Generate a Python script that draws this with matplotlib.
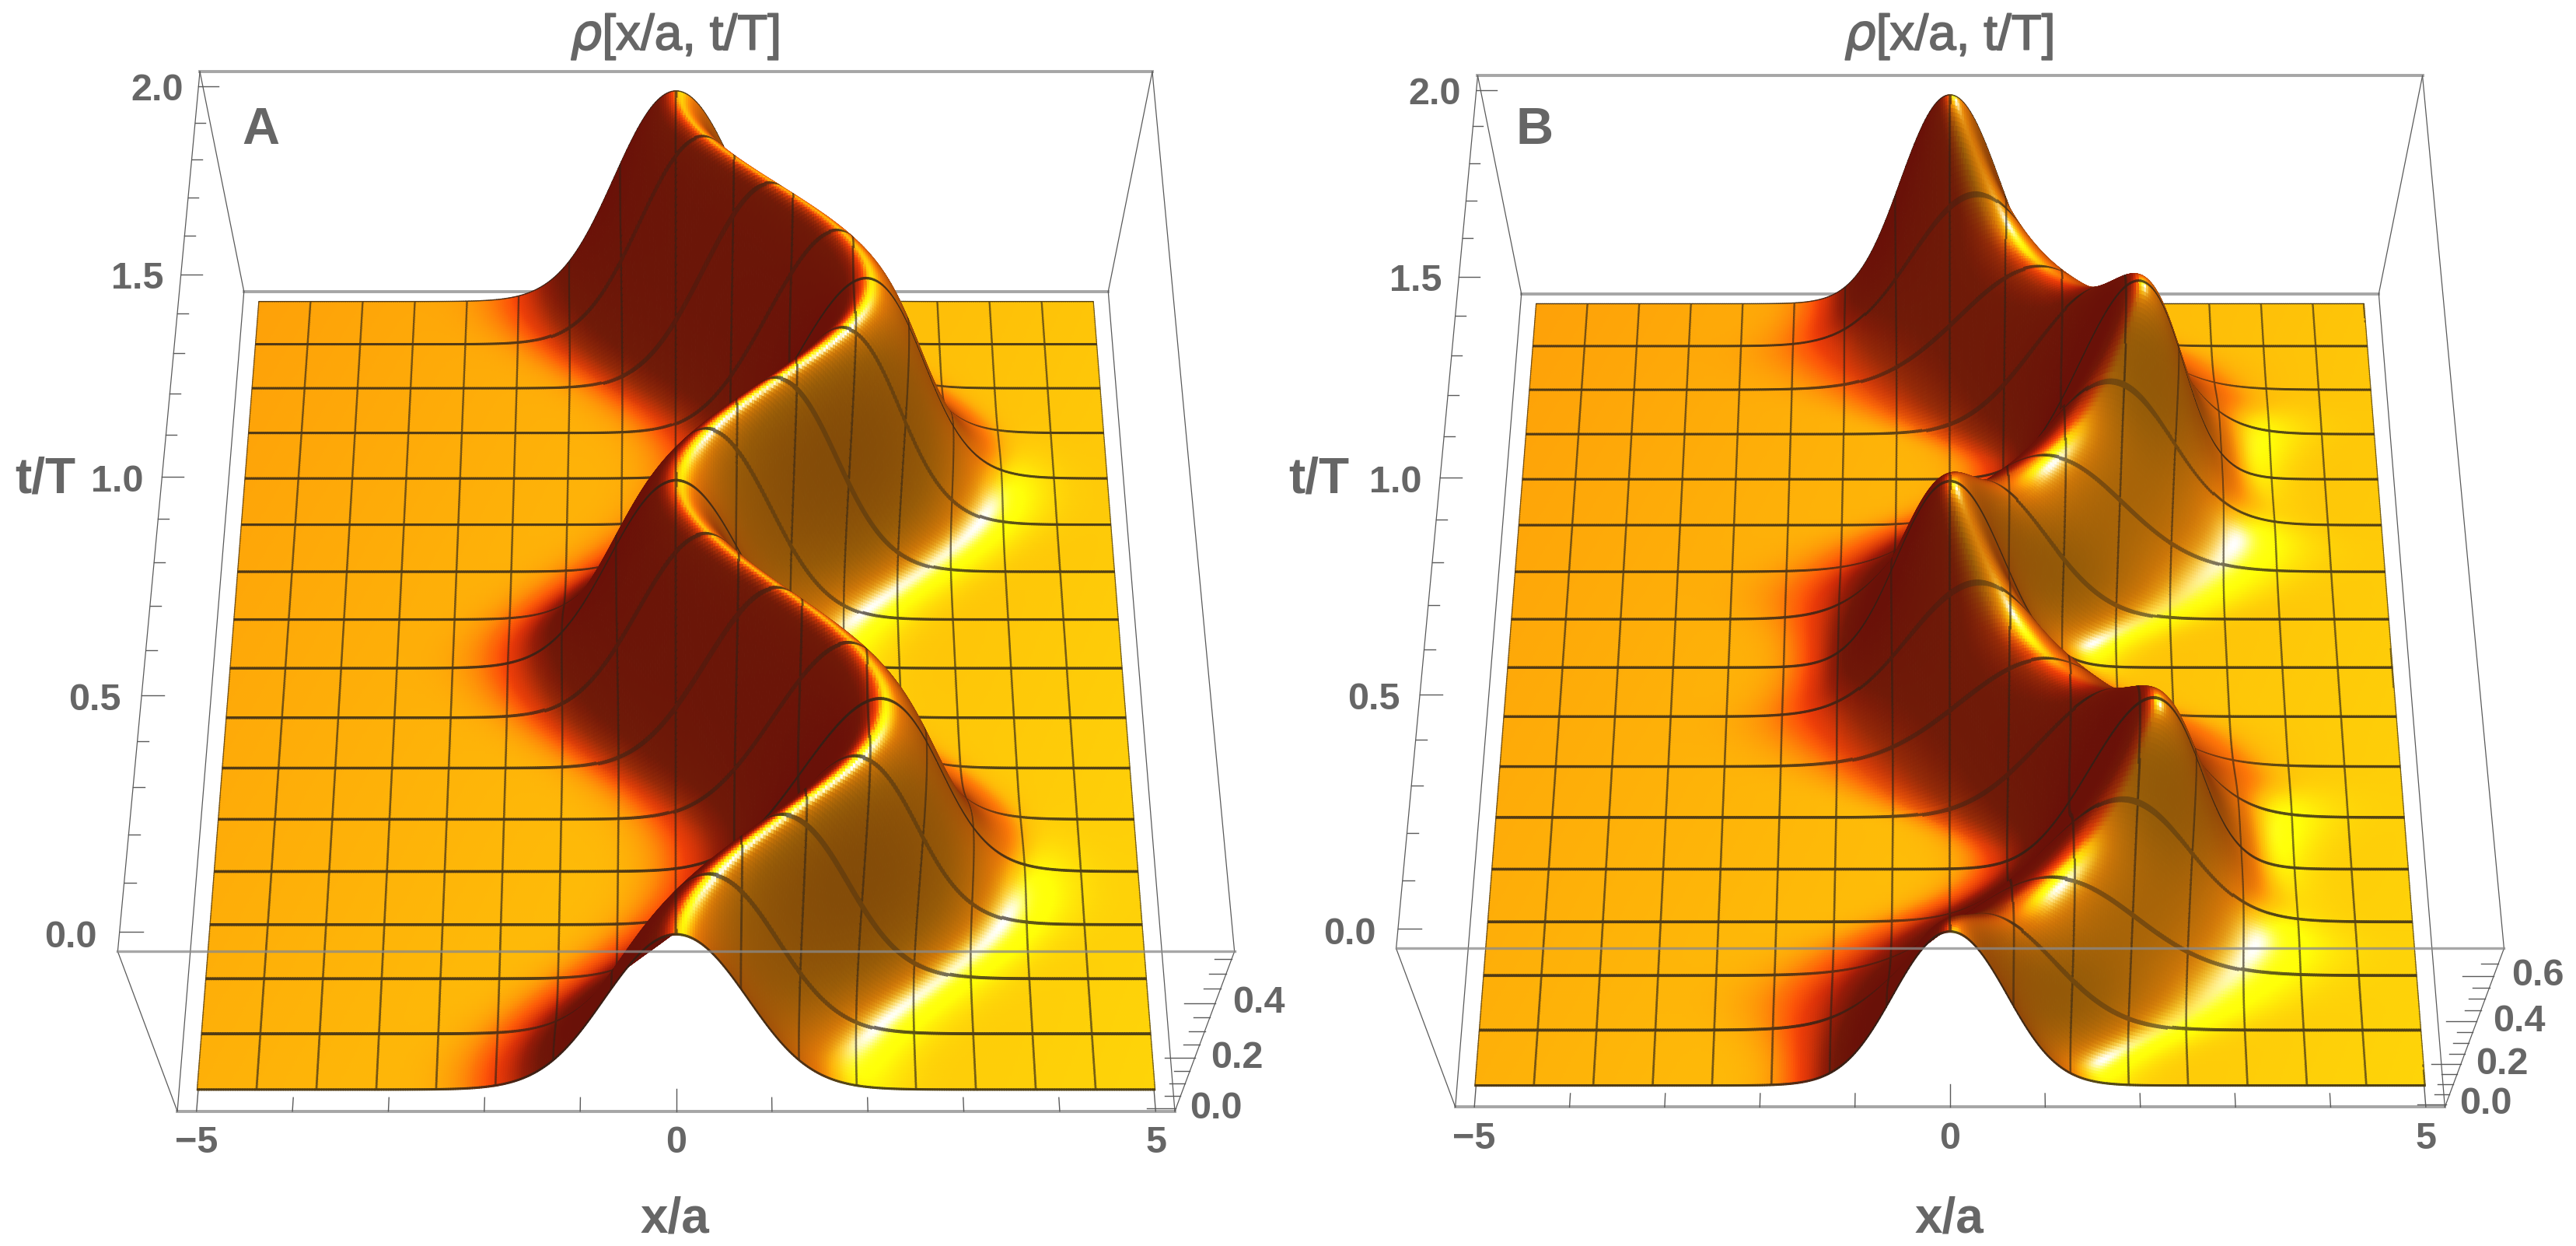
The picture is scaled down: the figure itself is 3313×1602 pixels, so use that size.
import numpy as np
import matplotlib
matplotlib.use("Agg")
import matplotlib.pyplot as plt
import matplotlib.patheffects as pe
from mpl_toolkits.mplot3d import proj3d

W, H = 3313, 1602
plt.rcParams['font.family'] = ['Liberation Sans', 'DejaVu Sans']

# values read at the mesh rows of each panel
t_rows = [0.0, 0.125, 0.25, 0.375, 0.5, 0.625, 0.75, 0.875, 1.0,
          1.125, 1.25, 1.375, 1.5, 1.625, 1.75, 1.875, 2.0]
centers_a = [0.0, 0.31, 1.02, 1.73, 1.99, 1.70, 1.0, 0.30, 0.0,
             0.31, 1.03, 1.73, 2.0, 1.71, 1.01, 0.29, 0.0]
heights_a = [0.564] * 17
centers_b = [0.0, 0.31, 1.02, 1.72, 2.0, 1.70, 1.0, 0.30, 0.0,
             0.31, 1.02, 1.72, 2.0, 1.70, 1.0, 0.30, 0.0]
heights_b = [0.70, 0.53, 0.44, 0.53, 0.70, 0.53, 0.44, 0.53, 0.70,
             0.53, 0.44, 0.53, 0.70, 0.53, 0.44, 0.53, 0.70]

x_mesh = np.linspace(-5, 5, 17)
t_mesh = np.array(t_rows)
t_tick_labels = ['0.0', '0.5', '1.0', '1.5', '2.0']
x_tick_labels = ['\u22125', '0', '5']
z_labels_a = ['0.0', '0.2', '0.4']
z_labels_b = ['0.0', '0.2', '0.4', '0.6']
LABEL = '#666666'
RIM = '#a6a6a6'
EDGE = '#5a5a5a'


def periodic(values, tq, period=2.0):
    v = np.asarray(values[:-1], float)
    n = len(v)
    c = np.fft.rfft(v) / n
    out = np.full_like(tq, c[0].real, dtype=float)
    for k in range(1, len(c)):
        f = 1.0 if (k == n // 2) else 2.0
        out += f * (c[k] * np.exp(2j * np.pi * k * tq / period)).real
    return out


def axis_samples(lo, hi, step, mesh, d):
    base = np.arange(lo, hi + step / 2, step)
    near = np.min(np.abs(base[:, None] - mesh[None, :]), axis=1)
    base = base[near > 1.5 * d]
    pts = np.concatenate([base, mesh - d, mesh + d, [lo, hi]])
    pts = pts[(pts >= lo) & (pts <= hi)]
    return np.unique(np.round(pts, 6))


def shade(xg, tg, Z, x, t, zspan):
    ZB = Z / zspan * 0.4
    zy, zx = np.gradient(ZB, t / 2.08, x / 10.4)
    nrm = np.sqrt(zx ** 2 + zy ** 2 + 1)
    n = np.stack([-zx / nrm, -zy / nrm, 1 / nrm], axis=-1)

    def unit(v):
        v = np.array(v, float)
        return v / np.linalg.norm(v)
    lg = unit((0.30, -0.25, 0.92))
    lr = unit((0.25, -0.10, 0.96))
    hw = unit((0.45, -0.42, 0.79))
    dg = np.clip(n @ lg, 0, 1)
    dr = np.clip(n @ lr, 0, 1)
    dw = np.clip(n @ hw, 0, 1)
    G = np.interp(dg, [0, .4, .56, .775, .84, .92, .99, 1],
                  [.12, .20, .31, .46, .55, .73, .97, 1.0])
    G = G * (1 - 0.45 * np.clip(-n[..., 0] / 0.4, 0, 1))
    G = G + (0.07 * xg / 5 - 0.03 * (tg - 1)) * np.clip((dg - 0.8) / 0.1, 0, 1)
    R = np.interp(dr, [0, .3, .5, .7, .85, 1], [.41, .44, .59, .84, .99, 1.0])
    B = 0.03 * np.ones_like(R)
    S = dw ** 55
    R, G, B = [np.clip(c, 0, 1) for c in (R, G, B)]
    R = R + S * (1 - R)
    G = G + S * (1 - G)
    B = B + S * (1 - B)
    return np.dstack([R, G, B, np.ones_like(R)])


def panel(cx, cy, scale, centers, heights, zmax_data, z_labels, z_major, name):
    S = 1490 * scale
    left = cx - 0.5135 * S
    bottom = (H - cy) - 0.5135 * S
    ax = fig.add_axes([left / W, bottom / H, S / W, S / H],
                      projection='3d', computed_zorder=False)
    ax.patch.set_alpha(0)

    pad_z = 0.02 * zmax_data
    xlim = (-5.2, 5.2)
    tlim = (-0.04, 2.04)
    zlim = (-pad_z, zmax_data + pad_z)
    zspan = zlim[1] - zlim[0]

    dx, dt = 0.011, 0.0034
    x = axis_samples(-5, 5, 0.025, x_mesh, dx)
    t = axis_samples(0, 2, 0.006, t_mesh, dt)
    xg, tg = np.meshgrid(x, t)
    c = periodic(centers, tg)
    h = periodic(heights, tg)
    Z = h * np.exp(-np.pi * h ** 2 * (xg - c) ** 2)

    fc = shade(xg, tg, Z, x, t, zspan)
    xm = 0.5 * (x[:-1] + x[1:])
    tm = 0.5 * (t[:-1] + t[1:])
    on_x = np.min(np.abs(xm[:, None] - x_mesh[None, :]), axis=1) < dx
    on_t = np.min(np.abs(tm[:, None] - t_mesh[None, :]), axis=1) < dt
    dark = np.array([0.17, 0.13, 0.09, 1.0])
    # a mesh line reads fainter where the slope stretches its facet
    zt = np.gradient(Z, t, axis=0)
    zs = np.gradient(Z, x, axis=1)
    a_t = (0.82 / (1 + 0.6 * np.abs(zt)))[..., None]
    a_x = (0.65 / (1 + 0.4 * np.abs(zs)))[..., None]
    body = fc.copy()
    fx = np.zeros(fc.shape[:2], bool)
    fx[:-1, :-1] = on_x[None, :]
    ft = np.zeros(fc.shape[:2], bool)
    ft[:-1, :-1] = on_t[:, None]
    fc = np.where(fx[..., None], (1 - a_x) * body + a_x * dark, fc)
    fc = np.where(ft[..., None], (1 - a_t) * body + a_t * dark, fc)

    xa, xb = xlim
    ta, tb = tlim
    za, zb = zlim
    thin = dict(color=EDGE, lw=0.9, zorder=1)
    thick = dict(color=RIM, lw=2.8, zorder=1)
    ax.plot([xa, xb], [tb, tb], [zb, zb], **thick)
    ax.plot([xa, xb], [tb, tb], [za, za], **thick)
    ax.plot([xa, xb], [ta, ta], [za, za], **thick)
    for xe in (xa, xb):
        ax.plot([xe, xe], [ta, tb], [zb, zb], **thin)
        ax.plot([xe, xe], [ta, tb], [za, za], **thin)
        ax.plot([xe, xe], [tb, tb], [za, zb], **thin)
        ax.plot([xe, xe], [ta, ta], [za, zb], **thin)

    tk = dict(color=EDGE, lw=1.0, zorder=1)
    for v in np.arange(0, 2.01, 0.1):
        major = abs(v / 0.5 - round(v / 0.5)) < 1e-6
        ax.plot([xa, xa + (0.22 if major else 0.11)], [v, v], [zb, zb], **tk)
    for v in np.arange(-5, 5.01, 1):
        major = abs(v) in (0, 5)
        ax.plot([v, v], [ta, ta + (0.05 if major else 0.03)], [za, za], **tk)
    for v in np.arange(0, zmax_data, 0.05):
        major = abs(v / 0.2 - round(v / 0.2)) < 1e-6
        ax.plot([xb, xb - (0.30 if major else 0.16)], [ta, ta], [v, v], **tk)

    ax.plot_surface(xg, tg, Z, facecolors=fc, rstride=1, cstride=1, shade=False,
                    linewidth=0.8, antialiased=True, zorder=2)

    ax.plot([xa, xb], [ta, ta], [zb, zb], color='#8a8a8a', lw=2.4, alpha=0.75, zorder=3)

    ax.set_xlim(*xlim, view_margin=0)
    ax.set_ylim(*tlim, view_margin=0)
    ax.set_zlim(*zlim, view_margin=0)
    ax.set_box_aspect((1, 1, 0.4), zoom=1.2)
    ax.view_init(elev=60, azim=-90)
    ax.set_proj_type('persp', focal_length=0.5166)
    ax.set_axis_off()
    ax.apply_aspect()
    M = ax.get_proj()

    def tx(px, py, s, **kw):
        fig.text(px / W, 1 - py / H, s, **kw)

    def at3d(xv, tv, zv, s, **kw):
        X, Y, _ = proj3d.proj_transform(xv, tv, zv, M)
        px, py = ax.transData.transform((X, Y))
        fig.text(px / W, py / H, s, **kw)

    txt = dict(color=LABEL, fontweight='bold', ha='center', va='center')
    for lab, v in zip(t_tick_labels, np.arange(0, 2.01, 0.5)):
        at3d(xa - 0.45, v - 0.012, zb, lab, fontsize=35, **txt)
    for lab, v in zip(x_tick_labels, (-5, 0, 5)):
        at3d(v * 1.025, ta, za - 0.135 * zspan / 0.587, lab, fontsize=35, **txt)
    for lab, v in zip(z_labels, z_major):
        at3d(xb + 0.42, ta, v, lab, fontsize=35, **txt)

    off = cx - 869.5
    tx(868 + off, 1567, 'x/a', fontsize=46, color=LABEL, fontweight='bold', ha='center', va='center')
    tx(58 + off, 617, 't/T', fontsize=46, color=LABEL, fontweight='bold', ha='center', va='center')
    tx(868 + off, 47, r'$\rho$[x/a, t/T]', fontsize=46, color=LABEL, ha='center', va='center',
       path_effects=[pe.withStroke(linewidth=1.2, foreground=LABEL)])
    tx(335 + off, 168, name, fontsize=48, color=LABEL,
       fontweight='bold', ha='center', va='center')
    return ax


fig = plt.figure(figsize=(W / 100, H / 100), dpi=100, facecolor='white')
panel(869.5, 745, 1.0, centers_a, heights_a, 0.564, z_labels_a, (0, 0.2, 0.4), 'A')
panel(2508, 745, 0.992, centers_b, heights_b, 0.70, z_labels_b, (0, 0.2, 0.4, 0.6), 'B')
fig.savefig('out.png', dpi=100)
